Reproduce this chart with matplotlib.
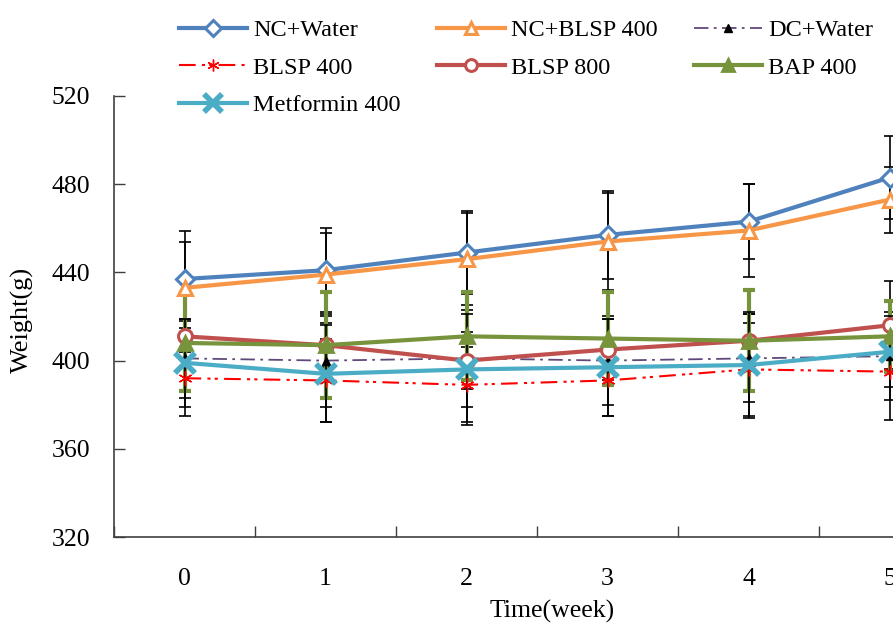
import matplotlib
matplotlib.use('Agg')
import matplotlib.pyplot as plt
from matplotlib.ticker import FixedLocator

plt.rcParams['font.family'] = ['Liberation Serif', 'DejaVu Serif']

weeks = [0, 1, 2, 3, 4, 5]
week_labels = ['0', '1', '2', '3', '4', '5']
y_ticks = [320, 360, 400, 440, 480, 520]

nc_water = [437, 441, 449, 457, 463, 483]
nc_water_sd = [22, 19, 19, 20, 17, 19]
nc_blsp400 = [433, 439, 446, 454, 459, 473]
nc_blsp400_sd = [21, 19, 21, 22, 21, 15]
dc_water = [401, 400, 401, 400, 401, 402]
dc_water_sd = [18, 21, 22, 20, 20, 20]
blsp400 = [392, 391, 389, 391, 396, 395]
blsp400_sd = [17, 19, 17, 16, 21, 22]
blsp800 = [411, 407, 400, 405, 409, 416]
blsp800_sd = [7, 10, 13, 14, 12, 20]
bap400 = [408, 407, 411, 410, 409, 411]
bap400_sd = [22, 24, 20, 21, 23, 16]
metformin400 = [399, 394, 396, 397, 398, 404]
metformin400_sd = [20, 22, 25, 22, 24, 16]

fig = plt.figure(figsize=(8.93, 6.26), dpi=100)
ax = fig.add_axes([114/893, 1-537/626, 846/893, (537-96)/626])

series = [
    ('NC+Water', nc_water, nc_water_sd, dict(color='#4F81BD', lw=3, ls='-', marker='D', ms=9, mfc='white', mec='#4F81BD', mew=2.2), 'black', 1.2),
    ('NC+BLSP 400', nc_blsp400, nc_blsp400_sd, dict(color='#F79646', lw=3, ls='-', marker='^', ms=10, mfc='white', mec='#F79646', mew=2.2), 'black', 1.2),
    ('DC+Water', dc_water, dc_water_sd, dict(color='#5F497A', lw=1.3, ls=(0, (8, 3, 1.5, 3)), marker='^', ms=6, mfc='black', mec='black', mew=1), 'black', 1.2),
    ('BLSP 400', blsp400, blsp400_sd, dict(color='#FF0000', lw=1.5, ls=(0, (8, 3, 1.5, 2, 1.5, 3)), marker=(6, 2, 0), ms=10, mec='#FF0000', mew=1), 'black', 1.2),
    ('BLSP 800', blsp800, blsp800_sd, dict(color='#C0504D', lw=3, ls='-', marker='o', ms=10, mfc='white', mec='#C0504D', mew=2.2), 'black', 1.2),
    ('BAP 400', bap400, bap400_sd, dict(color='#77933C', lw=3, ls='-', marker='^', ms=10, mfc='#77933C', mec='#77933C', mew=2), '#77933C', 3),
    ('Metformin 400', metformin400, metformin400_sd, dict(color='#4BACC6', lw=3, ls='-', marker='x', ms=15, mec='#4BACC6', mew=4), 'black', 1.2),
]

handles = {}
for name, vals, sd, st, ecol, elw in series:
    ax.errorbar(weeks, vals, yerr=sd, fmt='none', ecolor=ecol, elinewidth=elw,
                capsize=4.5, capthick=elw, zorder=2)
for i, (name, vals, sd, st, ecol, elw) in enumerate(series):
    ln, = ax.plot(weeks, vals, label=name, zorder=3 + i, **st)
    handles[name] = ln

ax.set_xlim(-0.5, 5.5)
ax.set_ylim(320, 520)
ax.set_yticks(y_ticks)
ax.set_xticks(weeks)
ax.set_xticklabels(week_labels)
ax.xaxis.set_minor_locator(FixedLocator([-0.5, 0.5, 1.5, 2.5, 3.5, 4.5, 5.5]))
ax.tick_params(axis='x', which='major', length=0, pad=22, labelsize=18.5)
ax.tick_params(axis='x', which='minor', length=8, direction='in', width=1, color='#404040')
ax.tick_params(axis='y', which='major', length=8, direction='in', width=1, color='#404040', pad=17, labelsize=18.5)
for s in ['top', 'right']:
    ax.spines[s].set_visible(False)
for s in ['left', 'bottom']:
    ax.spines[s].set_color('#404040')
    ax.spines[s].set_linewidth(1.2)

fig.text(22/893, 1-320/626, 'Weight(g)', rotation=90, ha='center', va='center', fontsize=19)
fig.text(552/893, 1-611/626, 'Time(week)', ha='center', va='center', fontsize=18.5)

# matplotlib fills legend columns first; order so that rows read as in the original
legend_order = ['NC+Water', 'BLSP 400', 'Metformin 400', 'NC+BLSP 400', 'BLSP 800', 'DC+Water', 'BAP 400']
fig.legend([handles[n] for n in legend_order], legend_order,
           loc='upper left', bbox_to_anchor=(179/893, 1-19/626), ncol=3, frameon=False,
           fontsize=17.5, handlelength=2.8, handletextpad=0.25, columnspacing=1.5,
           labelspacing=0.64, borderpad=0, borderaxespad=0, markerscale=0.85)

fig.savefig('out.png', dpi=100)
